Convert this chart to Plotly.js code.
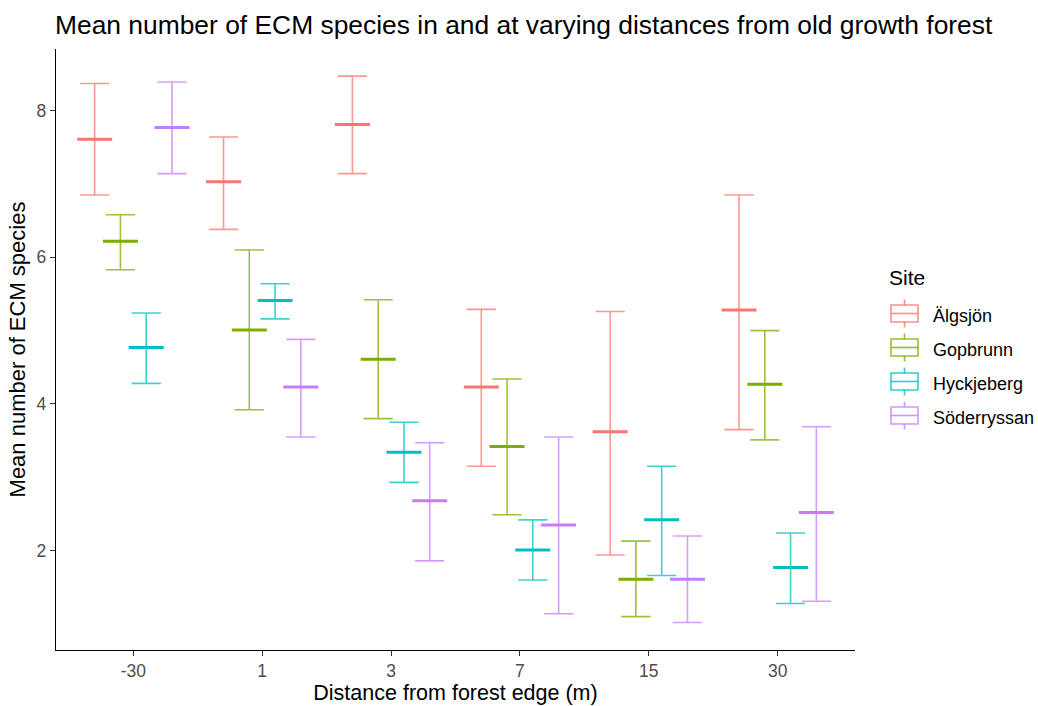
<!DOCTYPE html>
<html>
<head>
<meta charset="utf-8">
<script src="https://cdn.plot.ly/plotly-3.0.1.min.js"></script>
<style>html,body{margin:0;padding:0;background:#fff;}#chart{width:1038px;height:706px;}</style>
</head>
<body>
<div id="chart"></div>
<script>
const categories = ['-30', '1', '3', '7', '15', '30'];
const sites = ['Älgsjön', 'Gopbrunn', 'Hyckjeberg', 'Söderryssan'];
const colors = ['#F8766D', '#7CAE00', '#00BFC4', '#C77CFF'];

const algsjon_mean  = [7.61, 7.03, 7.81, 4.23, 3.62, 5.28];
const algsjon_upper = [8.37, 7.64, 8.47, 5.29, 5.26, 6.85];
const algsjon_lower = [6.85, 6.38, 7.14, 3.15, 1.94, 3.65];

const gopbrunn_mean  = [6.22, 5.01, 4.61, 3.42, 1.61, 4.27];
const gopbrunn_upper = [6.58, 6.10, 5.42, 4.34, 2.13, 5.00];
const gopbrunn_lower = [5.83, 3.92, 3.80, 2.49, 1.10, 3.51];

const hyckjeberg_mean  = [4.77, 5.41, 3.34, 2.01, 2.42, 1.77];
const hyckjeberg_upper = [5.24, 5.64, 3.75, 2.42, 3.15, 2.24];
const hyckjeberg_lower = [4.28, 5.16, 2.93, 1.60, 1.66, 1.28];

const soderryssan_mean  = [7.77, 4.23, 2.68, 2.35, 1.61, 2.52];
const soderryssan_upper = [8.39, 4.88, 3.47, 3.55, 2.20, 3.69];
const soderryssan_lower = [7.14, 3.55, 1.86, 1.14, 1.02, 1.31];

const means = [algsjon_mean, gopbrunn_mean, hyckjeberg_mean, soderryssan_mean];
const uppers = [algsjon_upper, gopbrunn_upper, hyckjeberg_upper, soderryssan_upper];
const lowers = [algsjon_lower, gopbrunn_lower, hyckjeberg_lower, soderryssan_lower];

function hexA(hex, a) {
  const r = parseInt(hex.slice(1,3),16), g = parseInt(hex.slice(3,5),16), b = parseInt(hex.slice(5,7),16);
  return 'rgba(' + r + ',' + g + ',' + b + ',' + a + ')';
}

const dodgeWidth = 0.8;
const nSites = sites.length;
const traces = [];
sites.forEach(function(site, s) {
  const offset = -dodgeWidth/2 + dodgeWidth/nSites*(s + 0.5);
  const xs = categories.map(function(c, i){ return i + 1 + offset; });
  const m = means[s];
  traces.push({
    type: 'scatter', mode: 'markers', name: site, showlegend: false,
    x: xs, y: m,
    error_y: {
      type: 'data', symmetric: false,
      array: uppers[s].map(function(u,i){ return u - m[i]; }),
      arrayminus: lowers[s].map(function(l,i){ return m[i] - l; }),
      width: 14.6, thickness: 1.6, color: hexA(colors[s], 0.75)
    },
    marker: { symbol: 'line-ew', size: 25, color: colors[s], line: { width: 3, color: colors[s] } },
    hoverinfo: 'x+y+name'
  });
});

// panel pixel geometry (for legend placement)
const W = 1038, H = 706;
const mL = 56, mR = 183, mT = 49, mB = 56;
const pw = W - mL - mR, ph = H - mT - mB;
function px(x){ return (x - mL) / pw; }
function py(y){ return (H - mB - y) / ph; }

const shapes = [];
const annotations = [];
annotations.push({ xref: 'paper', yref: 'paper', x: px(887), y: py(277), xanchor: 'left', yanchor: 'middle',
  text: 'Site', showarrow: false, font: { family: 'Liberation Sans, Arial, sans-serif', size: 21, color: '#000' } });
sites.forEach(function(site, s) {
  const c = 313.5 + s * 34;
  const col = hexA(colors[s], 0.8);
  const ln = { color: col, width: 1.6 };
  shapes.push({ type: 'rect', xref: 'paper', yref: 'paper', x0: px(891), x1: px(918), y0: py(c - 8.5), y1: py(c + 8.5), line: ln, fillcolor: 'rgba(0,0,0,0)' });
  shapes.push({ type: 'line', xref: 'paper', yref: 'paper', x0: px(891), x1: px(918), y0: py(c), y1: py(c), line: ln });
  shapes.push({ type: 'line', xref: 'paper', yref: 'paper', x0: px(904.5), x1: px(904.5), y0: py(c - 8.5), y1: py(c - 14), line: ln });
  shapes.push({ type: 'line', xref: 'paper', yref: 'paper', x0: px(904.5), x1: px(904.5), y0: py(c + 8.5), y1: py(c + 14), line: ln });
  annotations.push({ xref: 'paper', yref: 'paper', x: px(931), y: py(c + 2.5), xanchor: 'left', yanchor: 'middle',
    text: site, showarrow: false, font: { family: 'Liberation Sans, Arial, sans-serif', size: 18, color: '#000' } });
});

const layout = {
  width: W, height: H,
  margin: { l: mL, r: mR, t: mT, b: mB, pad: 0 },
  paper_bgcolor: '#fff', plot_bgcolor: '#fff',
  font: { family: 'Liberation Sans, Arial, sans-serif', color: '#000' },
  title: {
    text: 'Mean number of ECM species in and at varying distances from old growth forest',
    xref: 'container', yref: 'container', x: 55/W, xanchor: 'left', y: 1 - 25/H, yanchor: 'middle',
    font: { size: 26.4, color: '#000', family: 'Liberation Sans, Arial, sans-serif' }
  },
  showlegend: false,
  xaxis: {
    range: [0.4, 6.6], tickmode: 'array', tickvals: categories.map(function(c,i){ return i + 1; }), ticktext: categories,
    showgrid: false, zeroline: false, showline: true, linecolor: '#000', linewidth: 1.3,
    ticks: 'outside', ticklen: 5, tickwidth: 1.3, tickcolor: '#333',
    tickfont: { size: 17.5, color: '#4D4D4D' },
    title: { text: 'Distance from forest edge (m)', font: { size: 21.5, color: '#000' }, standoff: 4 }
  },
  yaxis: {
    range: [0.645, 8.84], tickmode: 'array', tickvals: [2, 4, 6, 8],
    showgrid: false, zeroline: false, showline: true, linecolor: '#000', linewidth: 1.3,
    ticks: 'outside', ticklen: 5, tickwidth: 1.3, tickcolor: '#333',
    tickfont: { size: 17.5, color: '#4D4D4D' },
    title: { text: 'Mean number of ECM species', font: { size: 22, color: '#000' }, standoff: 4 }
  },
  shapes: shapes,
  annotations: annotations
};

Plotly.newPlot('chart', traces, layout, { displayModeBar: false, responsive: false });
</script>
</body>
</html>
